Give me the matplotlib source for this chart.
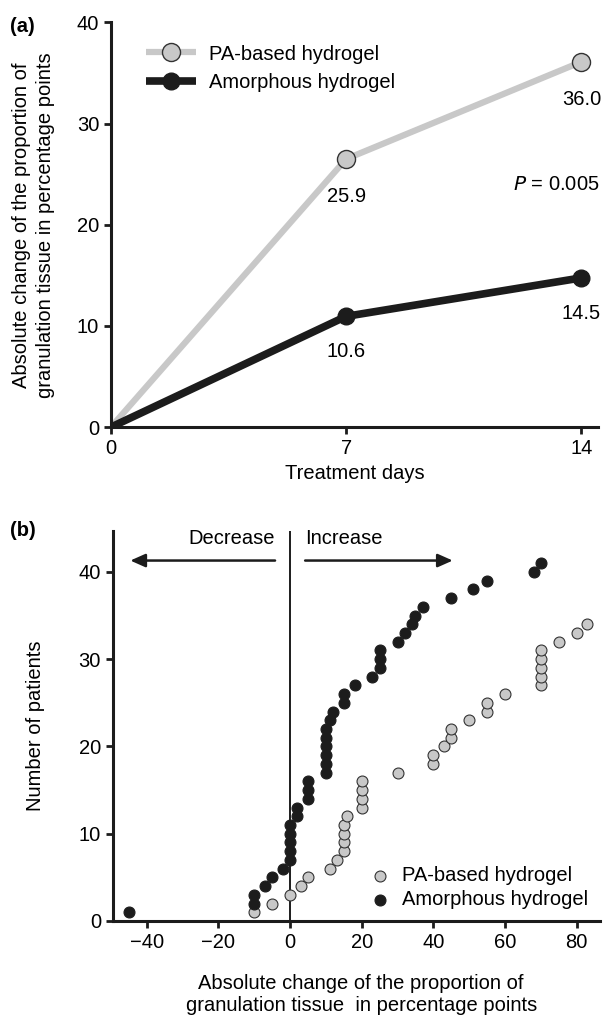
import matplotlib.pyplot as plt

plt.rcParams['font.family'] = ['Liberation Sans', 'DejaVu Sans']

# panel (a) data
days = [0, 7, 14]
pa_mean = [0, 26.5, 36.1]
amorph_mean = [0, 10.95, 14.75]
pa_labels = ['', '25.9', '36.0']
amorph_labels = ['', '10.6', '14.5']

# panel (b) data: change per patient (x) vs cumulative patient number (y)
amorph_x = [-45, -10, -10, -7, -5, -2, 0, 0, 0, 0, 0, 2, 2, 5, 5, 5,
            10, 10, 10, 10, 10, 10, 11, 12, 15, 15, 18, 23, 25, 25, 25,
            30, 32, 34, 35, 37, 45, 51, 55, 68, 70]
amorph_n = list(range(1, len(amorph_x) + 1))
pa_x = [-10, -5, 0, 3, 5, 11, 13, 15, 15, 15, 15, 16, 20, 20, 20, 20,
        30, 40, 40, 43, 45, 45, 50, 55, 55, 60, 70, 70, 70, 70, 70,
        75, 80, 83]
pa_n = list(range(1, len(pa_x) + 1))

GRAY = '#c8c8c8'
BLACK = '#1c1c1c'
FS = 14.5

fig = plt.figure(figsize=(6.03, 10.17), dpi=100)

# ---------------- (a)
ax1 = fig.add_axes([0.184, 0.580, 0.808, 0.398])
ax1.plot(days, pa_mean, color=GRAY, lw=4.5, marker='o', ms=13,
         mfc=GRAY, mec='#333333', mew=1.0, markevery=[1, 2], label='PA-based hydrogel',
         solid_capstyle='butt')
ax1.plot(days, amorph_mean, color=BLACK, lw=5.5, marker='o', ms=12,
         mfc=BLACK, mec=BLACK, markevery=[1, 2], label='Amorphous hydrogel',
         solid_capstyle='butt')
for d, v, t in zip(days, pa_mean, pa_labels):
    if t:
        ax1.text(d, v - 3.7, t, ha='center', va='center', fontsize=FS)
for d, v, t in zip(days, amorph_mean, amorph_labels):
    if t:
        ax1.text(d, v - 3.5, t, ha='center', va='center', fontsize=FS)
ax1.text(14.55, 24.0, '$P$ = 0.005', ha='right', va='center', fontsize=FS)
ax1.set_xlim(0, 14.5)
ax1.set_ylim(0, 40)
ax1.set_xticks([0, 7, 14])
ax1.set_yticks([0, 10, 20, 30, 40])
ax1.set_xlabel('Treatment days', fontsize=FS, labelpad=4)
ax1.set_ylabel('Absolute change of the proportion of\ngranulation tissue in percentage points',
               fontsize=FS, labelpad=16, linespacing=1.3)
ax1.legend(loc='upper left', bbox_to_anchor=(0.035, 0.99), frameon=False,
           fontsize=FS, handlelength=2.5, handletextpad=0.6, labelspacing=0.45)
ax1.text(-0.208, 0.99, '(a)', transform=ax1.transAxes, fontsize=FS,
         fontweight='bold', va='center', ha='left')

# ---------------- (b)
ax2 = fig.add_axes([0.187, 0.0944, 0.808, 0.3836])
ax2.axvline(0, color=BLACK, lw=1.4, zorder=1)
ax2.scatter(pa_x, pa_n, s=62, c=GRAY, edgecolors='#333333', linewidths=0.8,
            label='PA-based hydrogel', zorder=3)
ax2.scatter(amorph_x, amorph_n, s=62, c=BLACK, edgecolors=BLACK, linewidths=0.8,
            label='Amorphous hydrogel', zorder=3)
ax2.annotate('', xy=(-44.6, 41.3), xytext=(-4.2, 41.3),
             arrowprops=dict(arrowstyle='-|>,head_length=0.9,head_width=0.4',
                             color=BLACK, lw=1.8, shrinkA=0, shrinkB=0))
ax2.annotate('', xy=(45.4, 41.3), xytext=(4.2, 41.3),
             arrowprops=dict(arrowstyle='-|>,head_length=0.9,head_width=0.4',
                             color=BLACK, lw=1.8, shrinkA=0, shrinkB=0))
ax2.text(-4.2, 43.8, 'Decrease', ha='right', va='center', fontsize=FS)
ax2.text(4.2, 43.8, 'Increase', ha='left', va='center', fontsize=FS)
ax2.set_xlim(-49.5, 86.5)
ax2.set_ylim(0, 44.7)
ax2.set_xticks([-40, -20, 0, 20, 40, 60, 80])
ax2.set_xticklabels(['\u221240', '\u221220', '0', '20', '40', '60', '80'])
ax2.set_yticks([0, 10, 20, 30, 40])
ax2.set_xlabel('Absolute change of the proportion of\ngranulation tissue  in percentage points',
               fontsize=FS, labelpad=16, linespacing=1.2)
ax2.xaxis.label.set_x(0.51)
ax2.set_ylabel('Number of patients', fontsize=FS, labelpad=24)
ax2.legend(loc='lower right', bbox_to_anchor=(1.0, 0.0), frameon=False,
           fontsize=FS, handletextpad=0.1, labelspacing=0.25, borderaxespad=0.2,
           markerscale=1.0)
ax2.text(-0.21, 1.0, '(b)', transform=ax2.transAxes, fontsize=FS,
         fontweight='bold', va='center', ha='left')

for ax in (ax1, ax2):
    for s in ('top', 'right'):
        ax.spines[s].set_visible(False)
    for s in ('left', 'bottom'):
        ax.spines[s].set_linewidth(2.2)
        ax.spines[s].set_color(BLACK)
    ax.tick_params(direction='out', length=5, width=2, labelsize=FS, color=BLACK)

fig.savefig('out.png', dpi=100)
